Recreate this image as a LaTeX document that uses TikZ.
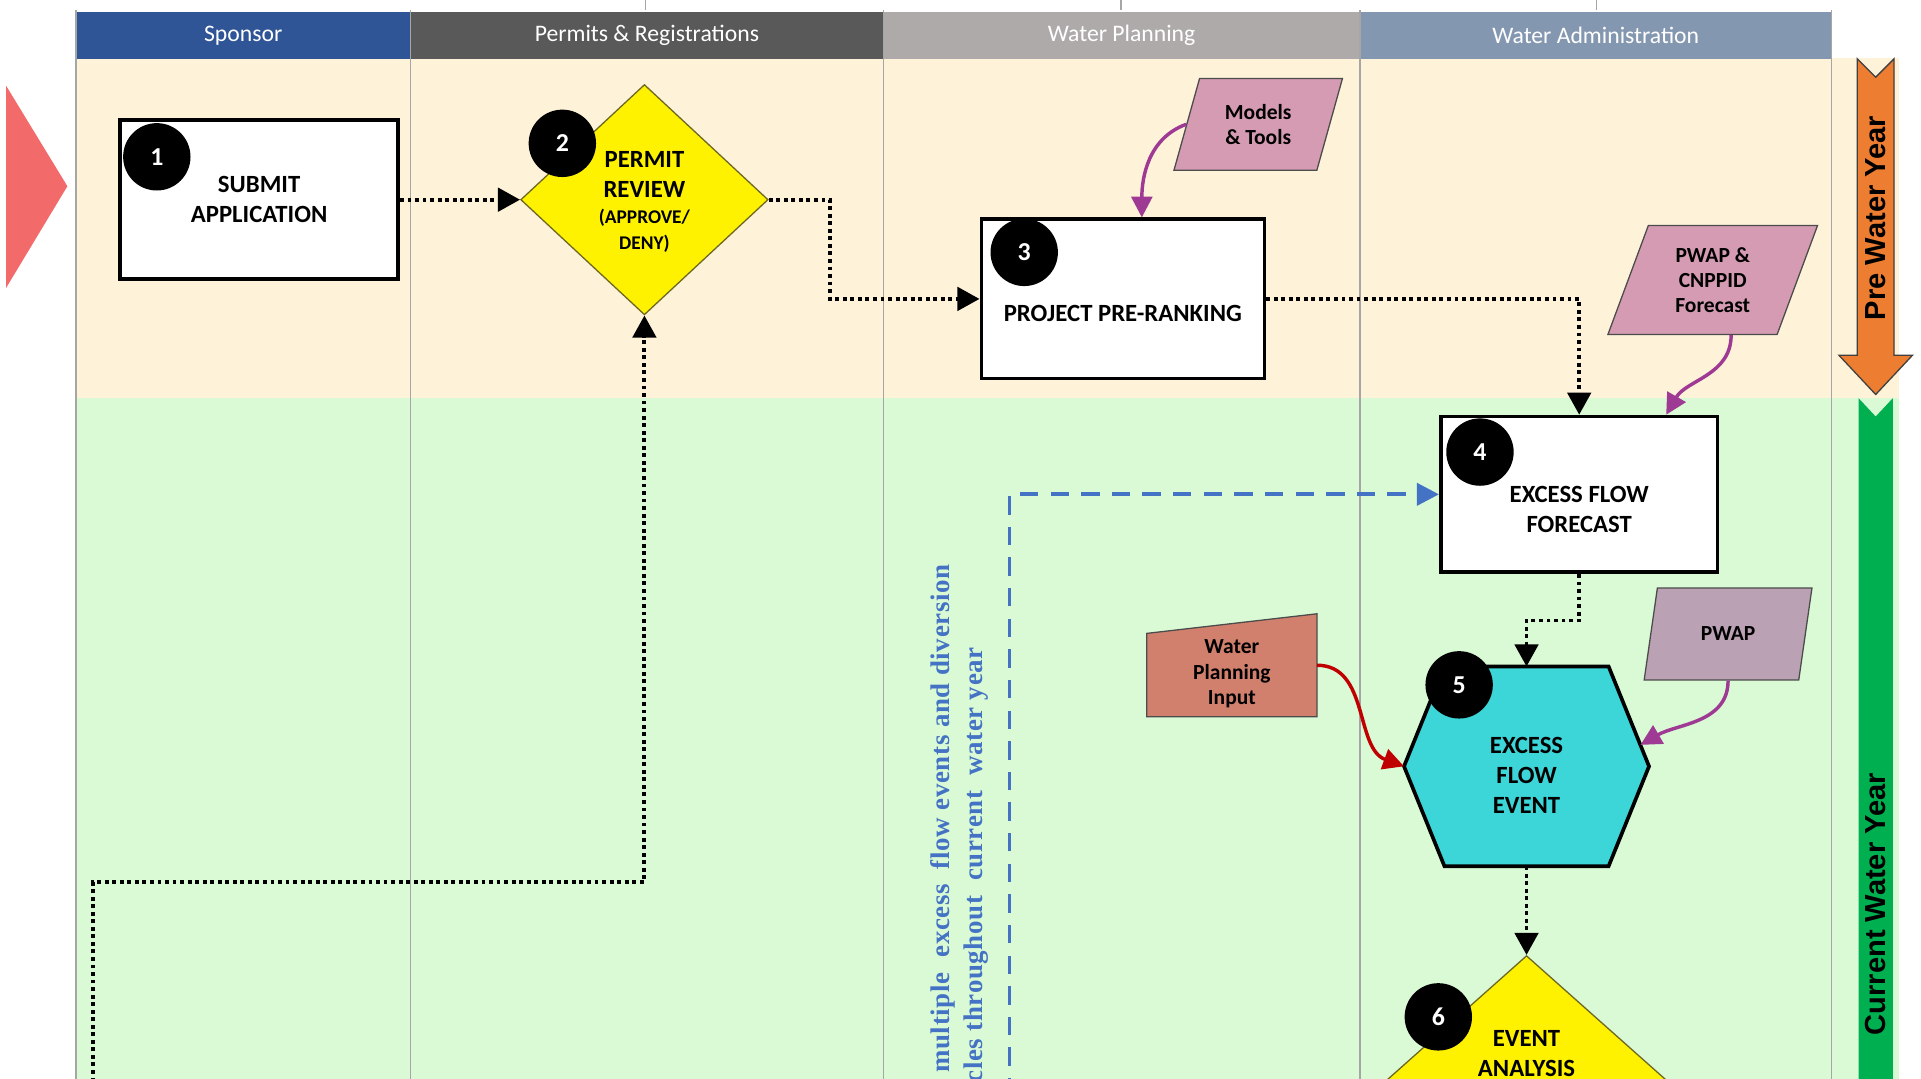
\documentclass[tikz,border=0pt]{standalone}
\usepackage{fontspec}
\setmainfont{Carlito}
\newfontfamily\notefont[LetterSpace=2.5]{Liberation Serif}
\newfontfamily\yearfont{Liberation Sans}
\usepackage{tikz}
\usetikzlibrary{shapes.geometric}
\usetikzlibrary{arrows.meta}

\definecolor{sponsorblue}{HTML}{2F5597}
\definecolor{permitgray}{HTML}{595959}
\definecolor{plangray}{HTML}{AEAAAA}
\definecolor{adminblue}{HTML}{8497B0}
\definecolor{prebg}{HTML}{FEF2D8}
\definecolor{curbg}{HTML}{D9FAD5}
\definecolor{lanegray}{HTML}{A6A6A6}
\definecolor{datapink}{HTML}{D49BB2}
\definecolor{datamauve}{HTML}{BAA1B3}
\definecolor{inputred}{HTML}{D2806E}
\definecolor{eventcyan}{HTML}{3CD6D8}
\definecolor{linkpurple}{HTML}{9E3A94}
\definecolor{linkred}{HTML}{C00000}
\definecolor{repeatblue}{HTML}{4472C4}
\definecolor{startred}{HTML}{F36A6A}
\definecolor{preorange}{HTML}{ED7D31}
\definecolor{curgreen}{HTML}{00B050}

\newcommand{\smalltxt}{\fontsize{9}{10}\selectfont}

\tikzset{
	lanehead/.style={text=white, font=\fontsize{11}{13}\selectfont, minimum height=0.78cm, inner sep=0pt},
	laneline/.style={lanegray, line width=0.6pt},
	procbox/.style={draw=black, fill=white, line width=1.7pt, align=center, font=\bfseries\fontsize{11.5}{14}\selectfont},
	boxtext/.style={align=center, font=\bfseries\fontsize{11.5}{14}\selectfont, inner sep=0pt},
	decision/.style={diamond, fill=yellow, draw=olive!70!black, line width=0.6pt, inner sep=0pt, align=center, font=\bfseries\fontsize{11.5}{14}\selectfont},
	datashape/.style={trapezium, trapezium left angle=70, trapezium right angle=110, trapezium stretches=true, draw=black!70, line width=0.6pt, inner sep=0pt, align=center, font=\bfseries\fontsize{10}{11.5}\selectfont},
	anchorbox/.style={minimum width=#1, inner sep=0pt, outer sep=0pt},
	badge/.style={circle, fill=black, text=white, inner sep=0pt, minimum size=1.1cm, font=\bfseries\fontsize{12}{14}\selectfont},
	flow/.style={line width=1.8pt, dash pattern=on 1.8pt off 1.7pt, -{Triangle[length=3.6mm,width=3.8mm]}},
	feed/.style={linkpurple, line width=1.6pt, -{Triangle[length=3.4mm,width=3.4mm]}},
	repeatline/.style={repeatblue, line width=1.8pt, dash pattern=on 3mm off 2mm, -{Triangle[length=3.6mm,width=3.6mm]}},
	bluenote/.style={rotate=90, text=repeatblue, inner sep=0pt, font=\notefont\bfseries\fontsize{12.5}{15}\selectfont},
	yeartext/.style={rotate=90, inner sep=0pt, font=\yearfont\bfseries\fontsize{13.5}{16}\selectfont}
}

\begin{document}
\begin{tikzpicture}
	\useasboundingbox (0,0) rectangle (31.36,17.6);
	\clip (0,0) rectangle (31.36,17.6);
	%
	% bands and lanes
	\fill[prebg] (1.24,11.10) rectangle (31.0,16.66);
	\fill[curbg] (1.24,-0.1) rectangle (31.0,11.10);
	\node[lanehead, fill=sponsorblue, minimum width=5.46cm] (hsp) at (3.97,17.02) {Sponsor};
	\node[lanehead, fill=permitgray, minimum width=7.72cm] (hpr) at (10.56,17.02) {Permits \& Registrations};
	\node[lanehead, fill=plangray, minimum width=7.78cm] (hwp) at (18.31,17.02) {Water Planning};
	\node[lanehead, fill=adminblue, minimum width=7.70cm] (hwa) at (26.05,17.02) {Water Administration};
	\foreach \x in {1.24,6.70,14.42,22.20,29.90}
		\draw[laneline] (\x,17.44) -- (\x,-0.1);
	\foreach \x in {10.54,18.30,26.06}
		\draw[laneline] (\x,17.44) -- (\x,17.7);
	%
	\fill[startred] (0.10,16.20) -- (1.10,14.56) -- (0.10,12.90) -- cycle;
	%
	% year arrows
	\filldraw[fill=preorange, draw=black!75, line width=0.6pt] (30.32,16.64) -- (30.62,16.34) -- (30.92,16.64) -- (30.92,11.80) -- (31.22,11.80) -- (30.62,11.16) -- (30.02,11.80) -- (30.32,11.80) -- cycle;
	\fill[curgreen] (30.34,11.10) -- (30.62,10.80) -- (30.90,11.10) -- (30.90,-0.1) -- (30.34,-0.1) -- cycle;
	\node[yeartext] (preyr) at (30.62,14.04) {Pre Water Year};
	\node[yeartext] (curyr) at (30.62,2.84) {Current Water Year};
	%
	% steps
	\node[procbox, minimum width=4.54cm, minimum height=2.6cm] (sub1) at (4.23,14.34) {SUBMIT\\APPLICATION};
	\node[decision, minimum width=4.04cm, minimum height=3.76cm] (pr2) at (10.52,14.34) {};
	\node[boxtext] (pr2t) at (10.52,14.30) {PERMIT\\REVIEW\\[-2pt]{\smalltxt (APPROVE/}\\[-2pt]{\smalltxt DENY)}};
	\node[procbox, minimum width=4.62cm, minimum height=2.6cm] (pr3) at (18.33,12.72) {};
	\node[boxtext] (pr3t) at (18.33,12.48) {PROJECT PRE-RANKING};
	\node[procbox, minimum width=4.52cm, minimum height=2.54cm] (fc4) at (25.78,9.53) {};
	\node[boxtext] (fc4t) at (25.78,9.28) {EXCESS FLOW\\FORECAST};
	\node[anchorbox=4.0cm, minimum height=3.26cm] (ev5) at (24.92,5.09) {};
	\filldraw[fill=eventcyan, draw=black, line width=1.7pt] (ev5.west) -- ([xshift=0.66cm]ev5.north west) -- ([xshift=-0.66cm]ev5.north east) -- (ev5.east) -- ([xshift=-0.66cm]ev5.south east) -- ([xshift=0.66cm]ev5.south west) -- cycle;
	\node[boxtext] (ev5t) at (24.92,4.94) {EXCESS\\FLOW\\EVENT};
	\coordinate (ev5r) at (26.78,5.44);
	\node[decision, minimum width=4.72cm, minimum height=4.2cm] (ea6) at (24.92,-0.1) {};
	\node[boxtext] (ea6t) at (24.92,0.40) {EVENT\\ANALYSIS};
	%
	% inputs
	\node[datashape, fill=datapink, minimum width=2.76cm, minimum height=1.5cm] (mt) at (20.54,15.57) {Models\\\& Tools};
	\node[datashape, fill=datapink, minimum width=3.44cm, minimum height=1.78cm] (pc) at (27.96,13.03) {PWAP \&\\CNPPID\\Forecast};
	\node[datashape, fill=datamauve, minimum width=2.74cm, minimum height=1.5cm] (pw) at (28.21,7.25) {PWAP};
	\node[anchorbox=2.78cm, minimum height=1.68cm] (wp) at (20.11,6.74) {};
	\filldraw[fill=inputred, draw=black!70, line width=0.6pt] (wp.south west) -- (wp.south east) -- (wp.north east) -- ([yshift=-0.32cm]wp.north west) -- cycle;
	\node[boxtext, font=\bfseries\fontsize{10}{12}\selectfont] (wpt) at (20.11,6.60) {Water\\Planning\\Input};
	%
	% badges
	\node[badge] (b1) at (2.56,15.04) {1};
	\node[badge] (b2) at (9.18,15.26) {2};
	\node[badge] (b3) at (16.72,13.48) {3};
	\node[badge] (b4) at (24.16,10.22) {4};
	\node[badge] (b5) at (23.82,6.42) {5};
	\node[badge] (b6) at (23.48,1.00) {6};
	%
	% repeat note
	\node[bluenote, anchor=west] (nt1) at (15.40,0.08) {multiple\ \ excess\ \ flow\ events\ and\ diversion};
	\node[bluenote, anchor=west] (nt2) at (15.94,-0.08) {cles throughout\ \ current\ \ water year};
	%
	\coordinate (lp) at (1.52,-0.3);
	\coordinate (rp) at (16.48,-0.3);
	%
	\draw[flow] (sub1) -- (pr2);
	\draw[flow] (pr2.east) -- ++(1.0,0) |- (pr3.west);
	\draw[flow] (pr3.east) -| (fc4.north);
	\draw[flow] (fc4.south) -- ++(0,-0.76) -| (ev5.north);
	\draw[flow] (ev5.south) -- (ea6.north);
	\draw[flow] (lp) -- ++(0,3.5) -| (pr2.south);
	\draw[repeatline] (rp) |- (fc4.west);
	\draw[feed] (mt.west) to[out=200,in=90] ([xshift=0.31cm]pr3.north);
	\draw[feed] ([xshift=0.3cm]pc.south) to[out=-90,in=60] ([xshift=1.42cm]fc4.north);
	\draw[feed] (pw.south) to[out=-90,in=30] (ev5r);
	\draw[feed, linkred] (wp.east) to[out=0,in=160] (ev5.west);
\end{tikzpicture}
\end{document}
